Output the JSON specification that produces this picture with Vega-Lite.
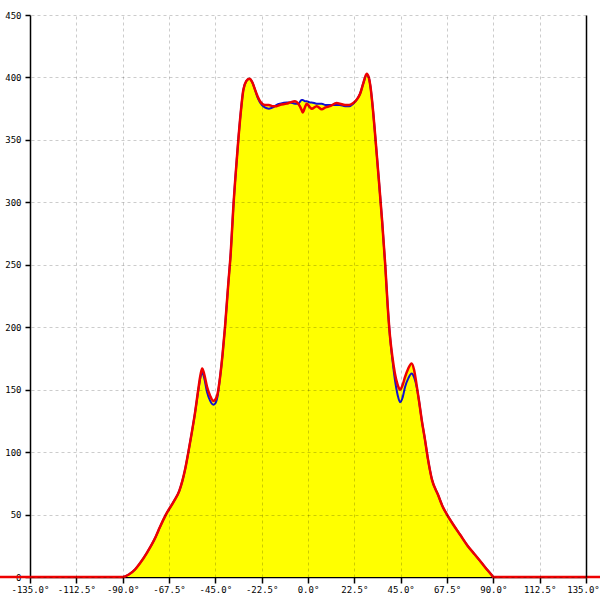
{
  "$schema": "https://vega.github.io/schema/vega-lite/v6.json",
  "width": 556,
  "height": 562,
  "autosize": {"type": "none"},
  "padding": {"left": 30, "top": 15, "right": 14, "bottom": 23},
  "background": "white",
  "config": {
    "view": {"stroke": null},
    "axis": {"labelFont": "DejaVu Sans Mono", "labelFontSize": 9, "labelColor": "#000", "domainColor": "#000", "tickColor": "#000", "domainWidth": 1.5, "tickWidth": 1.5, "title": null}
  },
  "data": {
    "values": [
      {"a": -180, "b": 0, "r": 0, "f": 0},
      {"a": -90, "b": 0, "r": 0, "f": 0},
      {"a": -87, "b": 2, "r": 2, "f": 2},
      {"a": -84, "b": 6, "r": 6, "f": 6},
      {"a": -81.6, "b": 11, "r": 11, "f": 11},
      {"a": -78, "b": 20, "r": 20, "f": 20},
      {"a": -74, "b": 32, "r": 32, "f": 32},
      {"a": -71.9, "b": 40, "r": 40, "f": 40},
      {"a": -69, "b": 50, "r": 50, "f": 50},
      {"a": -65, "b": 61, "r": 61, "f": 61},
      {"a": -62.5, "b": 69, "r": 69, "f": 69},
      {"a": -61, "b": 77, "r": 77, "f": 77},
      {"a": -59.7, "b": 86, "r": 86, "f": 86},
      {"a": -58.1, "b": 100, "r": 100, "f": 100},
      {"a": -56.5, "b": 115, "r": 115, "f": 115},
      {"a": -54.9, "b": 131, "r": 131, "f": 131},
      {"a": -53.3, "b": 149, "r": 150, "f": 150},
      {"a": -52.2, "b": 160, "r": 162, "f": 162},
      {"a": -51.4, "b": 164, "r": 167, "f": 167},
      {"a": -50.5, "b": 160, "r": 163, "f": 163},
      {"a": -49, "b": 148, "r": 152, "f": 152},
      {"a": -47.5, "b": 141, "r": 145, "f": 145},
      {"a": -46, "b": 138, "r": 141, "f": 141},
      {"a": -45, "b": 139, "r": 142, "f": 142},
      {"a": -44, "b": 144, "r": 146, "f": 146},
      {"a": -42.7, "b": 160, "r": 160, "f": 160},
      {"a": -41.5, "b": 178, "r": 178, "f": 178},
      {"a": -40.3, "b": 200, "r": 200, "f": 200},
      {"a": -38.7, "b": 235, "r": 235, "f": 235},
      {"a": -37.5, "b": 260, "r": 260, "f": 260},
      {"a": -36.3, "b": 295, "r": 295, "f": 295},
      {"a": -34.6, "b": 334, "r": 334, "f": 334},
      {"a": -33, "b": 366, "r": 366, "f": 366},
      {"a": -31.4, "b": 390, "r": 390, "f": 390},
      {"a": -30, "b": 397, "r": 397, "f": 397},
      {"a": -28.5, "b": 399, "r": 399, "f": 399},
      {"a": -27, "b": 396, "r": 396, "f": 396},
      {"a": -25.7, "b": 390, "r": 390, "f": 390},
      {"a": -24.5, "b": 384, "r": 385, "f": 385},
      {"a": -23.3, "b": 380, "r": 381, "f": 381},
      {"a": -21, "b": 376, "r": 378, "f": 378},
      {"a": -19, "b": 375, "r": 378, "f": 378},
      {"a": -17, "b": 376, "r": 377, "f": 377},
      {"a": -15.2, "b": 378, "r": 377, "f": 378},
      {"a": -13.5, "b": 379, "r": 378, "f": 379},
      {"a": -10.3, "b": 380, "r": 379, "f": 380},
      {"a": -8.7, "b": 380, "r": 380, "f": 380},
      {"a": -6.3, "b": 379, "r": 381, "f": 381},
      {"a": -4.7, "b": 379, "r": 379, "f": 379},
      {"a": -3.1, "b": 382, "r": 374, "f": 382},
      {"a": -2.6, "b": 382, "r": 372, "f": 382},
      {"a": -1.5, "b": 381, "r": 376, "f": 381},
      {"a": -0.6, "b": 381, "r": 379, "f": 381},
      {"a": 1, "b": 380, "r": 376, "f": 380},
      {"a": 1.8, "b": 380, "r": 375, "f": 380},
      {"a": 4.2, "b": 379, "r": 377, "f": 379},
      {"a": 6.7, "b": 379, "r": 374.5, "f": 379},
      {"a": 8.5, "b": 378, "r": 376, "f": 378},
      {"a": 10.7, "b": 378, "r": 377, "f": 378},
      {"a": 13.9, "b": 378, "r": 379.5, "f": 379.5},
      {"a": 15.5, "b": 378, "r": 379, "f": 379},
      {"a": 18, "b": 377, "r": 378, "f": 378},
      {"a": 20, "b": 377, "r": 378, "f": 378},
      {"a": 22, "b": 379, "r": 379.5, "f": 379.5},
      {"a": 24, "b": 383, "r": 383, "f": 383},
      {"a": 25.3, "b": 387, "r": 387, "f": 387},
      {"a": 26.8, "b": 395, "r": 395, "f": 395},
      {"a": 28.5, "b": 402, "r": 403, "f": 403},
      {"a": 29.5, "b": 400, "r": 400, "f": 400},
      {"a": 30.3, "b": 393, "r": 393, "f": 393},
      {"a": 31.2, "b": 380, "r": 380, "f": 380},
      {"a": 32.3, "b": 360, "r": 360, "f": 360},
      {"a": 34, "b": 326, "r": 326, "f": 326},
      {"a": 36, "b": 285, "r": 285, "f": 285},
      {"a": 37.5, "b": 250, "r": 250, "f": 250},
      {"a": 38.7, "b": 217, "r": 217, "f": 217},
      {"a": 39.8, "b": 193, "r": 193, "f": 193},
      {"a": 41, "b": 174, "r": 176, "f": 176},
      {"a": 42.2, "b": 158, "r": 163, "f": 163},
      {"a": 43.5, "b": 146, "r": 154, "f": 154},
      {"a": 44.7, "b": 140, "r": 150, "f": 150},
      {"a": 46, "b": 144, "r": 154, "f": 154},
      {"a": 47.1, "b": 152, "r": 160, "f": 160},
      {"a": 48.7, "b": 159, "r": 167, "f": 167},
      {"a": 50.3, "b": 163, "r": 171, "f": 171},
      {"a": 51.5, "b": 160, "r": 166, "f": 166},
      {"a": 52.8, "b": 152, "r": 153, "f": 153},
      {"a": 54, "b": 140, "r": 140, "f": 140},
      {"a": 55.2, "b": 126, "r": 126, "f": 126},
      {"a": 56.8, "b": 110, "r": 110, "f": 110},
      {"a": 58.3, "b": 94, "r": 94, "f": 94},
      {"a": 60.2, "b": 78, "r": 78, "f": 78},
      {"a": 63.1, "b": 66, "r": 66, "f": 66},
      {"a": 65.5, "b": 56, "r": 56, "f": 56},
      {"a": 67.5, "b": 50, "r": 50, "f": 50},
      {"a": 70.5, "b": 42, "r": 42, "f": 42},
      {"a": 73.8, "b": 34, "r": 34, "f": 34},
      {"a": 77.5, "b": 25, "r": 25, "f": 25},
      {"a": 81, "b": 18, "r": 18, "f": 18},
      {"a": 84, "b": 12, "r": 12, "f": 12},
      {"a": 86.9, "b": 6, "r": 6, "f": 6},
      {"a": 89, "b": 2, "r": 2, "f": 2},
      {"a": 90, "b": 0, "r": 0, "f": 0},
      {"a": 180, "b": 0, "r": 0, "f": 0}
    ]
  },
  "resolve": {"axis": {"x": "independent", "y": "independent"}},
  "layer": [
    {
      "mark": {"type": "area", "color": "#ffff00", "interpolate": "monotone", "clip": false},
      "encoding": {
        "x": {"field": "a", "type": "quantitative", "scale": {"domain": [-135, 135], "nice": false, "zero": false},
          "axis": {"orient": "bottom", "values": [-135, -112.5, -90, -67.5, -45, -22.5, 0, 22.5, 45, 67.5, 90, 112.5, 135], "grid": false, "tickSize": 6, "labelPadding": 2, "labelFlush": false, "labelOverlap": false,
            "labelOffset": {"condition": {"test": "datum.value == 135", "value": -3}, "value": 0},
            "labelExpr": "(datum.value < 0 ? '-' + format(-datum.value, '.1f') : format(datum.value, '.1f')) + '°'"}},
        "y": {"field": "f", "type": "quantitative", "scale": {"domain": [0, 450], "nice": false},
          "axis": {"orient": "left", "values": [0, 50, 100, 150, 200, 250, 300, 350, 400, 450], "grid": false, "tickSize": 5, "labelPadding": 4, "labelFlush": false, "labelOverlap": false}}
      }
    },
    {
      "mark": {"type": "line", "color": "#1010d0", "strokeWidth": 2, "interpolate": "monotone", "clip": false},
      "encoding": {
        "x": {"field": "a", "type": "quantitative", "axis": null},
        "y": {"field": "b", "type": "quantitative", "axis": null}
      }
    },
    {
      "mark": {"type": "line", "color": "#ee0000", "strokeWidth": 2.5, "interpolate": "monotone", "clip": false},
      "encoding": {
        "x": {"field": "a", "type": "quantitative",
          "axis": {"orient": "top", "values": [-135, -112.5, -90, -67.5, -45, -22.5, 0, 22.5, 45, 67.5, 90, 112.5, 135], "grid": true, "gridColor": "#000", "gridOpacity": 0.2, "gridDash": [3, 3], "gridWidth": 1, "labels": false, "ticks": false, "domain": false, "zindex": 1}},
        "y": {"field": "r", "type": "quantitative",
          "axis": {"orient": "right", "values": [0, 50, 100, 150, 200, 250, 300, 350, 400, 450], "grid": true, "gridColor": "#000", "gridOpacity": 0.2, "gridDash": [3, 3], "gridWidth": 1, "labels": false, "ticks": false, "domain": true, "zindex": 1}}
      }
    }
  ]
}
